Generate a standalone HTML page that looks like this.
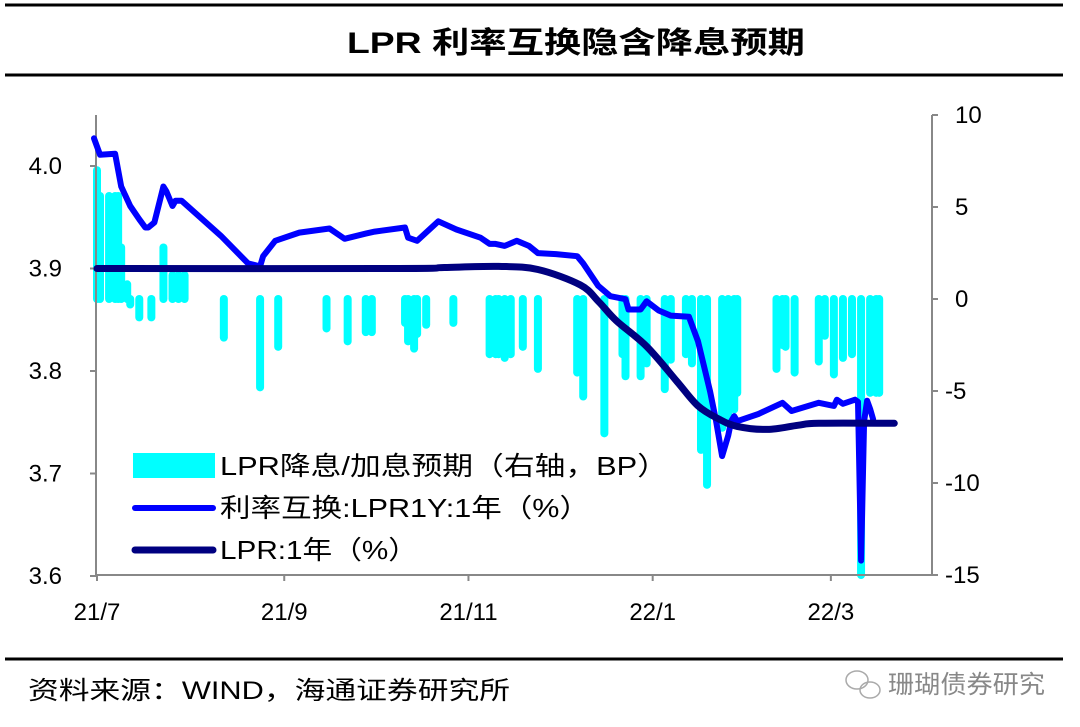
<!DOCTYPE html>
<html><head><meta charset="utf-8"><style>
html,body{margin:0;padding:0;background:#fff;}
svg{display:block;font-family:"Liberation Sans","Noto Sans CJK SC",sans-serif;}
</style></head><body>
<svg id="chart" width="1080" height="727" viewBox="0 0 1080 727">
<line x1="5" y1="5" x2="1063" y2="5" stroke="#000" stroke-width="3"/>
<text x="347" y="53" font-size="30" font-weight="bold" textLength="458" lengthAdjust="spacingAndGlyphs">LPR 利率互换隐含降息预期</text>
<line x1="5" y1="75" x2="1063" y2="75" stroke="#000" stroke-width="3"/>
<g id="bars"></g>
<g id="axes"></g>
<g id="lines"></g>
<g>
<rect x="133" y="453" width="82" height="25" fill="#00ffff"/>
<text x="220" y="475" font-size="26" textLength="448" lengthAdjust="spacingAndGlyphs">LPR降息/加息预期（右轴，BP）</text>
<line x1="135" y1="508" x2="213" y2="508" stroke="#0000ff" stroke-width="6" stroke-linecap="round"/>
<text x="220" y="517" font-size="26" textLength="370" lengthAdjust="spacingAndGlyphs">利率互换:LPR1Y:1年（%）</text>
<line x1="135" y1="550" x2="213" y2="550" stroke="#000080" stroke-width="7" stroke-linecap="round"/>
<text x="220" y="559" font-size="26" textLength="198" lengthAdjust="spacingAndGlyphs">LPR:1年（%）</text>
</g>
<line x1="5" y1="659" x2="1063" y2="659" stroke="#000" stroke-width="3"/>
<text x="28" y="699" font-size="25" textLength="482" lengthAdjust="spacingAndGlyphs">资料来源：WIND，海通证券研究所</text>
<g>
<ellipse cx="857" cy="680" rx="11" ry="9" fill="none" stroke="#aaa" stroke-width="1.5"/>
<ellipse cx="870" cy="690" rx="10" ry="8" fill="none" stroke="#aaa" stroke-width="1.5"/>
<text x="888" y="693" font-size="25" fill="#888" textLength="157" lengthAdjust="spacingAndGlyphs">珊瑚债券研究</text>
</g>
</svg>
<script>
// bars: day offset from 2021-07-01, value in BP (right axis)
const barDays=[0,1,4,6,7,8,10,11,14,18,22,25,27,29,42,54,60,76,83,89,91,102,103,105,106,109,118,130,132,133,135,137,141,146,159,161,168,174,175,180,182,188,190,195,197,200,202,207,209,211,212,225,227,228,231,239,241,244,247,250,253,256,258,259];
const barVals=[7,5.6,5.6,5.6,5.6,2.8,0.8,-0.3,-1.0,-1.0,2.8,1.3,1.3,1.3,-2.1,-4.8,-2.6,-1.6,-2.3,-1.8,-1.8,-1.3,-2.3,-2.7,-1.9,-1.4,-1.3,-3.0,-3.0,-3.0,-3.2,-3.0,-2.6,-3.8,-4.0,-5.3,-7.3,-3.0,-4.2,-4.2,-3.5,-4.9,-3.3,-3.0,-3.5,-8.2,-10.1,-7.0,-6.5,-6.0,-5.1,-3.8,-2.5,-2.6,-4.0,-3.4,-2.0,-4.1,-3.2,-3.0,-15,-5.1,-5.1,-5.1];
// swap line (left axis %)
const swapDays=[-1,1,6,8,11,14,16,17,19,22,23,25,26,28,41,50,54,55,59,67,77,82,89,92,102,103,106,113,119,127,130,132,135,139,143,146,152,159,161,166,170,175,176,180,182,186,190,196,199,203,205,207,209,210,211,212,219,227,230,239,244,245,247,251,252,253,254,255,256,257];
const swapVals=[4.027,4.011,4.012,3.980,3.961,3.948,3.940,3.940,3.945,3.980,3.975,3.961,3.966,3.966,3.932,3.905,3.902,3.912,3.927,3.935,3.939,3.929,3.934,3.936,3.940,3.930,3.927,3.946,3.938,3.930,3.924,3.924,3.922,3.927,3.922,3.915,3.914,3.912,3.905,3.883,3.873,3.870,3.860,3.860,3.868,3.859,3.854,3.853,3.829,3.780,3.751,3.717,3.737,3.751,3.756,3.751,3.758,3.769,3.761,3.769,3.766,3.772,3.768,3.772,3.770,3.615,3.751,3.771,3.763,3.753];
// LPR line (left axis %)
const lprDays=[0,100,115,133,146,160,166,172,182,192,199,206,212,222,232,239,264];
const lprVals=[3.900,3.900,3.901,3.902,3.899,3.884,3.868,3.849,3.824,3.790,3.766,3.753,3.746,3.743,3.747,3.749,3.749];
const xTickDays=[0,62,123,184,243];
const xTickLabels=["21/7","21/9","21/11","22/1","22/3"];
const yLeftTicks=[4.0,3.9,3.8,3.7,3.6];
const yRightTicks=[10,5,0,-5,-10,-15];

const NS="http://www.w3.org/2000/svg";
const X0=96, X1=932, YT=115, YB=575;
const xS=d=>97+d*3.02;
const yL=v=>166+(4.0-v)*1025;
const yR=v=>299-v*18.4;
function mk(tag,attrs,parent){const e=document.createElementNS(NS,tag);for(const k in attrs)e.setAttribute(k,attrs[k]);parent.appendChild(e);return e;}
const bars=document.getElementById('bars'),axes=document.getElementById('axes'),lines=document.getElementById('lines');
barDays.forEach((d,i)=>{
  const x=xS(d);
  const b=mk('line',{x1:x,x2:x,y1:yR(0),y2:yR(barVals[i]),stroke:'#00ffff','stroke-width':8,'stroke-linecap':'round'},bars);
  
  
});
let a=mk('line',{x1:X0,y1:YT,x2:X0,y2:YB,stroke:'#888','stroke-width':2},axes);


a=mk('line',{x1:X1,y1:YT,x2:X1,y2:YB,stroke:'#888','stroke-width':2},axes);


a=mk('line',{x1:X0,y1:YB,x2:X1,y2:YB,stroke:'#888','stroke-width':2},axes);


yLeftTicks.forEach(v=>{const y=yL(v);
  mk('line',{x1:X0-6,x2:X0,y1:y,y2:y,stroke:'#888','stroke-width':2},axes);
  const t=mk('text',{x:62,y:y+8,'text-anchor':'end','font-size':24},axes);t.textContent=v.toFixed(1);
  
  
});
yRightTicks.forEach(v=>{const y=yR(v);
  mk('line',{x1:X1,x2:X1+6,y1:y,y2:y,stroke:'#888','stroke-width':2},axes);
  const t=mk('text',{x:v<0?945:955,y:y+8,'font-size':24},axes);t.textContent=v;
  
  
});
xTickDays.forEach((d,i)=>{const x=xS(d);
  mk('line',{x1:x,x2:x,y1:YB,y2:YB+6,stroke:'#888','stroke-width':2},axes);
  const t=mk('text',{x:x,y:620,'text-anchor':'middle','font-size':24},axes);t.textContent=xTickLabels[i];
  
  
});
function path(days,vals){return days.map((d,i)=>(i?'L':'M')+xS(d).toFixed(1)+' '+yL(vals[i]).toFixed(1)).join(' ');}
function smooth(days,vals){
  const P=days.map((d,i)=>[xS(d),yL(vals[i])]);
  let s='M'+P[0][0].toFixed(1)+' '+P[0][1].toFixed(1);
  for(let i=0;i<P.length-1;i++){
    const p0=P[i-1]||P[i],p1=P[i],p2=P[i+1],p3=P[i+2]||P[i+1];
    const c1=[p1[0]+(p2[0]-p0[0])/6,p1[1]+(p2[1]-p0[1])/6];
    const c2=[p2[0]-(p3[0]-p1[0])/6,p2[1]-(p3[1]-p1[1])/6];
    s+=' C'+c1.map(v=>v.toFixed(1)).join(' ')+' '+c2.map(v=>v.toFixed(1)).join(' ')+' '+p2[0].toFixed(1)+' '+p2[1].toFixed(1);
  }
  return s;
}
let p=mk('path',{d:path(swapDays,swapVals),fill:'none',stroke:'#0000ff','stroke-width':6,'stroke-linejoin':'round','stroke-linecap':'round'},lines);


p=mk('path',{d:smooth(lprDays,lprVals),fill:'none',stroke:'#000080','stroke-width':7,'stroke-linejoin':'round','stroke-linecap':'round'},lines);


</script>
</body></html>
